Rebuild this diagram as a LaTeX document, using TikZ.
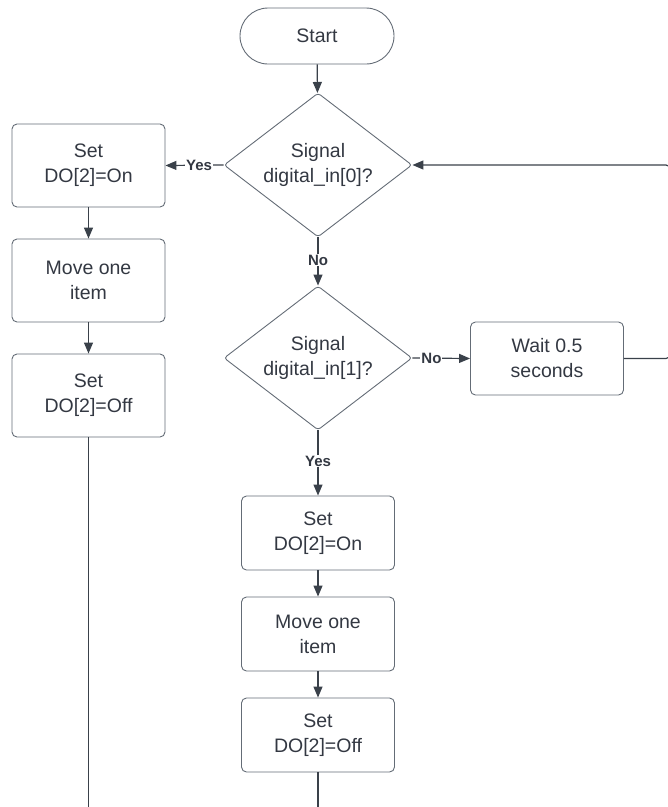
\documentclass[tikz,border=0pt]{standalone}
\usepackage{fontspec}
\setmainfont{Liberation Sans}
\usetikzlibrary{shapes.geometric,arrows.meta}

\definecolor{linec}{RGB}{58,65,74}
\definecolor{edgec}{RGB}{100,108,118}
\definecolor{textc}{RGB}{51,56,66}

\tikzset{
  base/.style={draw=edgec, line width=0.9pt, text=textc, align=center,
    font=\fontsize{19.5}{25}\selectfont, inner sep=0pt},
  procbox/.style={base, rectangle, rounded corners=5pt, minimum width=153pt},
  terminal/.style={base, rectangle, rounded corners=28pt, minimum width=154pt, minimum height=56pt},
  decision/.style={base, diamond, shape aspect=1.3, rounded corners=3pt,
    minimum width=188pt, minimum height=144pt},
  flow/.style={draw=linec, line width=1.2pt, -{Triangle[length=11pt,width=9pt]}},
  plain/.style={draw=linec, line width=1.2pt},
  lbl/.style={fill=white, text=textc, font=\fontsize{15}{16}\bfseries\selectfont, inner sep=1pt}
}

\begin{document}
\begin{tikzpicture}[x=1pt, y=-1pt]
  \useasboundingbox (0,0) rectangle (668,807);

  % main column
  \node[terminal] (start) at (317,36) {Start};
  \node[decision] (d0) at (318,165) {Signal\\digital\_in[0]?};
  \node[decision] (d1) at (318,358) {Signal\\digital\_in[1]?};
  \node[procbox, minimum height=73pt] (wait) at (547,358.5) {Wait 0.5\\seconds};
  \node[procbox, minimum height=74pt] (c1) at (318,533) {Set\\DO[2]=On};
  \node[procbox, minimum height=74pt] (c2) at (318,634) {Move one\\item};
  \node[procbox, minimum height=74pt] (c3) at (318,735) {Set\\DO[2]=Off};

  % left column
  \node[procbox, minimum height=83pt] (l1) at (88.5,165.5) {Set\\DO[2]=On};
  \node[procbox, minimum height=83pt] (l2) at (88.5,280.5) {Move one\\item};
  \node[procbox, minimum height=83pt] (l3) at (88.5,395.5) {Set\\DO[2]=Off};

  % open ends at the bottom and the return loop just past the right edge
  \coordinate (lend) at (88.5,807);
  \coordinate (cend) at (318,807);
  \coordinate (rb) at (670,358.5);
  \coordinate (rt) at (670,165);

  % connectors
  \draw[flow] (start) -- (d0);
  \draw[flow] (d0.west) -- node[lbl, pos=0.42] {Yes} (l1.east);
  \draw[flow] (d0.south) -- node[lbl, pos=0.47] {No} (d1.north);
  \draw[flow] (d1.east) -- node[lbl, pos=0.33] {No} (wait.west);
  \draw[flow] (d1.south) -- node[lbl, pos=0.47] {Yes} (c1.north);
  \draw[flow] (l1) -- (l2);
  \draw[flow] (l2) -- (l3);
  \draw[flow] (c1) -- (c2);
  \draw[flow] (c2) -- (c3);
  \draw[plain] (l3.south) -- (lend);
  \draw[plain] (c3.south) -- (cend);
  \draw[flow, rounded corners=4pt] (wait.east) -- (rb) -- (rt) -- (d0.east);
\end{tikzpicture}
\end{document}
